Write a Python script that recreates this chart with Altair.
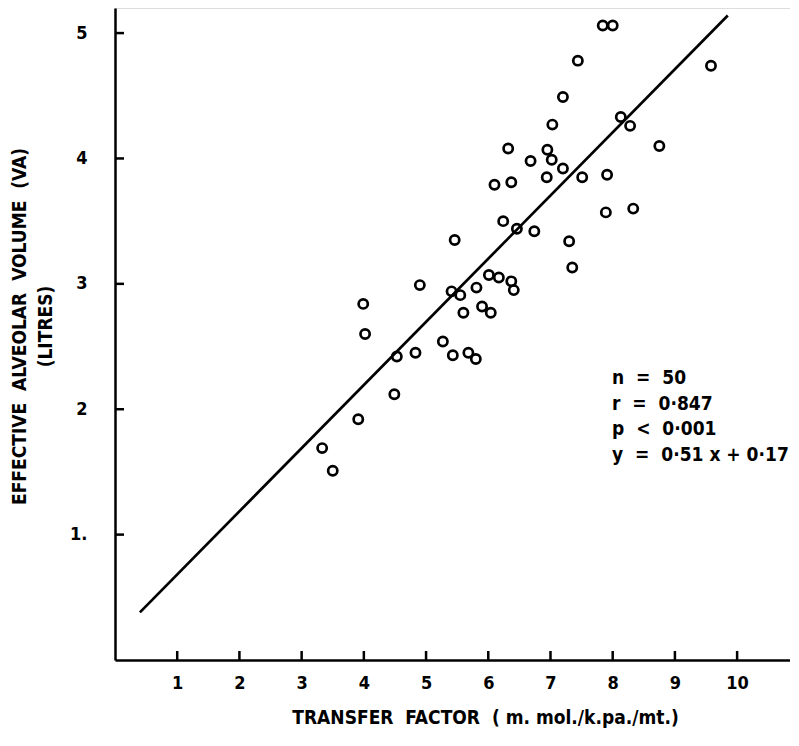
import altair as alt
import pandas as pd

# Observed data points (transfer factor, effective alveolar volume)
tf = [7.84, 8.00, 7.44, 9.58, 7.20, 7.03, 8.13, 8.28, 6.32, 6.95,
      8.75, 7.02, 6.68, 7.20, 6.94, 7.51, 7.91, 6.10, 6.37, 6.24,
      6.46, 6.74, 5.46, 7.30, 7.89, 8.33, 7.35, 4.90, 5.41, 5.55,
      5.81, 6.01, 6.17, 6.37, 6.41, 5.90, 6.04, 5.60, 3.99, 4.02,
      5.27, 5.43, 4.83, 4.53, 5.68, 5.80, 4.49, 3.91, 3.33, 3.50]
va = [5.06, 5.06, 4.78, 4.74, 4.49, 4.27, 4.33, 4.26, 4.08, 4.07,
      4.10, 3.99, 3.98, 3.92, 3.85, 3.85, 3.87, 3.79, 3.81, 3.50,
      3.44, 3.42, 3.35, 3.34, 3.57, 3.60, 3.13, 2.99, 2.94, 2.91,
      2.97, 3.07, 3.05, 3.02, 2.95, 2.82, 2.77, 2.77, 2.84, 2.60,
      2.54, 2.43, 2.45, 2.42, 2.45, 2.40, 2.12, 1.92, 1.69, 1.51]

# Regression line end points
line_x = [0.40, 9.85]
line_y = [0.38, 5.14]

x_ticks = [1, 2, 3, 4, 5, 6, 7, 8, 9, 10]
y_ticks = [1, 2, 3, 4, 5]

NB = "\u00a0"
stats_text = [f"n {NB}={NB} 50", f"r {NB}={NB} 0·847", f"p {NB}<{NB} 0·001",
              f"y {NB}={NB} 0·51 x + 0·17"]
x_title = f"TRANSFER{NB} FACTOR{NB} ( m. mol./k.pa./mt.)"
y_title = [f"EFFECTIVE{NB}  ALVEOLAR{NB}  VOLUME{NB}  (VA)", "(LITRES)"]

FONT = "DejaVu Sans Condensed, DejaVu Sans"

pts = pd.DataFrame({"tf": tf, "va": va})
ln = pd.DataFrame({"tf": line_x, "va": line_y})
xt = pd.DataFrame({"v": x_ticks})
yt = pd.DataFrame({"v": y_ticks})

W, H = 675, 652
xscale = alt.Scale(domain=[0, 10.85], nice=False, zero=False)
yscale = alt.Scale(domain=[0, 5.2], nice=False, zero=False)

xaxis = alt.Axis(values=x_ticks, format="d", tickSize=0, labelPadding=14, grid=False,
                 domainColor="black", domainWidth=2.5, labelFont=FONT,
                 labelFontSize=18, labelFontWeight="bold", labelColor="black",
                 title=x_title, titleFont=FONT,
                 titleFontSize=19, titleFontWeight="bold", titleColor="black",
                 titlePadding=16, titleX=370, titleAlign="center")
yaxis = alt.Axis(values=y_ticks, format="d", tickSize=0, labelPadding=28, grid=False,
                 domainColor="black", domainWidth=2.5, labelFont=FONT,
                 labelFontSize=18, labelFontWeight="bold", labelColor="black",
                 labelExpr="datum.value == 1 ? '1.' : datum.label",
                 title=y_title,
                 titleFont=FONT, titleFontSize=19, titleFontWeight="bold",
                 titleColor="black", titlePadding=14, titleLineHeight=26,
                 titleY=318)

base_pts = alt.Chart(pts).mark_point(
    shape="circle", filled=False, color="black", size=85, strokeWidth=2.7, opacity=1
).encode(
    x=alt.X("tf:Q", scale=xscale, axis=xaxis),
    y=alt.Y("va:Q", scale=yscale, axis=yaxis),
)

reg = alt.Chart(ln).mark_line(color="black", strokeWidth=2.7).encode(
    x=alt.X("tf:Q", scale=xscale),
    y=alt.Y("va:Q", scale=yscale),
)

xt_marks = alt.Chart(xt).mark_rule(color="black", strokeWidth=2.5).encode(
    x=alt.X("v:Q", scale=xscale),
    y=alt.value(H),
    y2=alt.value(H - 9),
)
yt_marks = alt.Chart(yt).mark_rule(color="black", strokeWidth=2.5).encode(
    y=alt.Y("v:Q", scale=yscale),
    x=alt.value(0),
    x2=alt.value(9),
)

stats = alt.Chart(pd.DataFrame({"t": [stats_text]})).mark_text(
    align="left", baseline="middle", font=FONT, fontSize=19, fontWeight="bold",
    color="black", lineHeight=25.5
).encode(
    text="t",
    x=alt.value(497),
    y=alt.value(370),
)

chart = alt.layer(base_pts, reg, xt_marks, yt_marks, stats).properties(
    width=W, height=H,
    autosize=alt.AutoSizeParams(type="none"),
    padding={"left": 107, "top": 0, "right": 0, "bottom": 80},
).configure_view(stroke=None).configure(background="white")

chart.save("out.html", embed_options={"renderer": "svg", "actions": False})
